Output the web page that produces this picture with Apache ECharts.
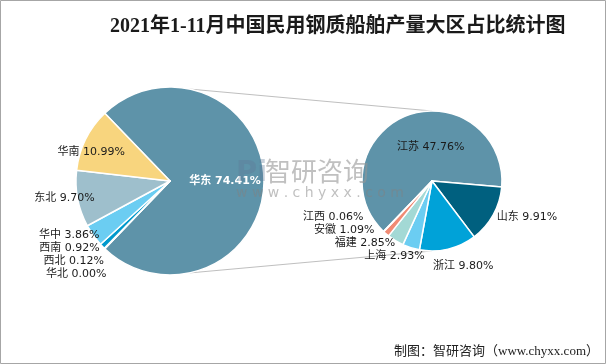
<!DOCTYPE html>
<html><head><meta charset="utf-8">
<script src="https://cdn.jsdelivr.net/npm/echarts@6/dist/echarts.min.js"></script>
<style>html,body{margin:0;padding:0;background:#fff}#c{width:606px;height:364px}</style>
</head><body><div id="c"></div>
<script>
const titleText = '2021年1-11月中国民用钢质船舶产量大区占比统计图';
const regions = ['华东','华北','西北','西南','华中','东北','华南'];
const regionValues = [74.41, 0.00, 0.12, 0.92, 3.86, 9.70, 10.99];
const provinces = ['江苏','山东','浙江','上海','福建','安徽','江西'];
const provinceValues = [47.76, 9.91, 9.80, 2.93, 2.85, 1.09, 0.06];
const sourceText = '制图：智研咨询（www.chyxx.com）';

const leftColors = ['#5E93A9','#00607F','#00607F','#0099CC','#6BCDF2','#9EBFCC','#F8D57E'];
const rightColors = ['#5E93A9','#00607F','#00A2D8','#6BCDF2','#A3D9D5','#F08B74','#F8D57E'];

// label nudges (text placement only)
const leftLabelNudge = {'华东': [5, 0], '华南': [-34, -7], '东北': [20, -1], '华中': [18, -1], '西南': [14, -1], '西北': [12, -3], '华北': [8, -2]};
const rightLabelNudge = {'江苏': [12, 2], '山东': [-5, 0], '浙江': [-21, 13], '上海': [20, -14], '福建': [8, -14], '安徽': [-4, -17], '江西': [-7, -17]};

const FONT = '"DejaVu Sans", "Noto Sans CJK SC", sans-serif';
const SERIF = '"Liberation Serif", "DejaVu Serif", "Noto Sans CJK SC", serif';

const L = {cx: 170, cy: 181, r: 94};
const R = {cx: 432, cy: 181, r: 70};

const sumL = regionValues.reduce((a, b) => a + b, 0);
const sumR = provinceValues.reduce((a, b) => a + b, 0);
const leftStart = regionValues[0] / sumL * 180;
const rightStart = -5 + provinceValues[0] / sumR * 360;

const fmt = p => p.name + ' ' + Number(p.value).toFixed(2) + '%';

const leftData = regions.map((n, i) => {
  const d = {name: n, value: regionValues[i], itemStyle: {color: leftColors[i]}, label: {offset: leftLabelNudge[n]}};
  if (i === 0) Object.assign(d.label, {position: 'inside', color: '#fff', fontWeight: 'bold'});
  if (n === '华南') d.label.position = 'inside';
  return d;
});
const rightData = provinces.map((n, i) => {
  const d = {name: n, value: provinceValues[i], itemStyle: {color: rightColors[i]}, label: {offset: rightLabelNudge[n]}};
  if (i === 0) d.label.position = 'inside';
  return d;
});

const deg = Math.PI / 180;
const a = 78 * deg;
const lineStyle = {stroke: '#BFBFBF', lineWidth: 1};

const chart = echarts.init(document.getElementById('c'), null, {renderer: 'canvas'});
chart.setOption({
  backgroundColor: '#fff',
  animation: false,
  title: {
    text: titleText, left: 105, top: 12,
    textStyle: {fontFamily: SERIF, fontSize: 20, fontWeight: 'bold', color: '#1a1a1a'}
  },
  graphic: [
    {type: 'rect', z: -10, shape: {x: 0.5, y: 0.5, width: 605, height: 363}, style: {fill: '#fff', stroke: '#A6A6A6', lineWidth: 1}},
    {type: 'line', z: -5, shape: {x1: L.cx + L.r * Math.cos(a), y1: L.cy - L.r * Math.sin(a), x2: R.cx, y2: R.cy - R.r}, style: lineStyle},
    {type: 'line', z: -5, shape: {x1: L.cx + L.r * Math.cos(a), y1: L.cy + L.r * Math.sin(a), x2: R.cx, y2: R.cy + R.r}, style: lineStyle},
    {type: 'text', z: 50, left: 236, top: 159, style: {text: 'Pi', fontSize: 29, fontWeight: 'bold', fontFamily: 'DejaVu Sans', fill: 'rgba(95,120,150,0.35)'}},
    {type: 'text', z: 50, left: 265, top: 158, style: {text: '智研咨询', fontSize: 26, fontFamily: '"Noto Sans CJK SC", sans-serif', fill: 'rgba(150,150,150,0.6)'}},
    {type: 'text', z: 50, left: 236, top: 186, style: {text: 'w w w . c h y x x . c o m', fontSize: 14, fontFamily: 'DejaVu Sans', fill: 'rgba(130,130,130,0.5)'}},
    {type: 'text', right: 7, bottom: 6, style: {text: sourceText, fontSize: 13, fontFamily: SERIF, fill: '#222'}}
  ],
  series: [
    {
      type: 'pie', center: [L.cx, L.cy], radius: L.r, startAngle: leftStart, clockwise: true,
      avoidLabelOverlap: true, minShowLabelAngle: 0,
      itemStyle: {borderColor: '#fff', borderWidth: 1.5},
      label: {show: true, position: 'outside', formatter: fmt, fontSize: 11, fontFamily: FONT, color: '#1a1a1a'},
      labelLine: {show: false, length: 2, length2: 0},
      data: leftData
    },
    {
      type: 'pie', center: [R.cx, R.cy], radius: R.r, startAngle: rightStart, clockwise: true,
      avoidLabelOverlap: true, minShowLabelAngle: 0,
      itemStyle: {borderColor: '#fff', borderWidth: 1.5},
      label: {show: true, position: 'outside', formatter: fmt, fontSize: 11, fontFamily: FONT, color: '#1a1a1a'},
      labelLine: {show: false, length: 4, length2: 0},
      data: rightData
    }
  ]
});
</script></body></html>
